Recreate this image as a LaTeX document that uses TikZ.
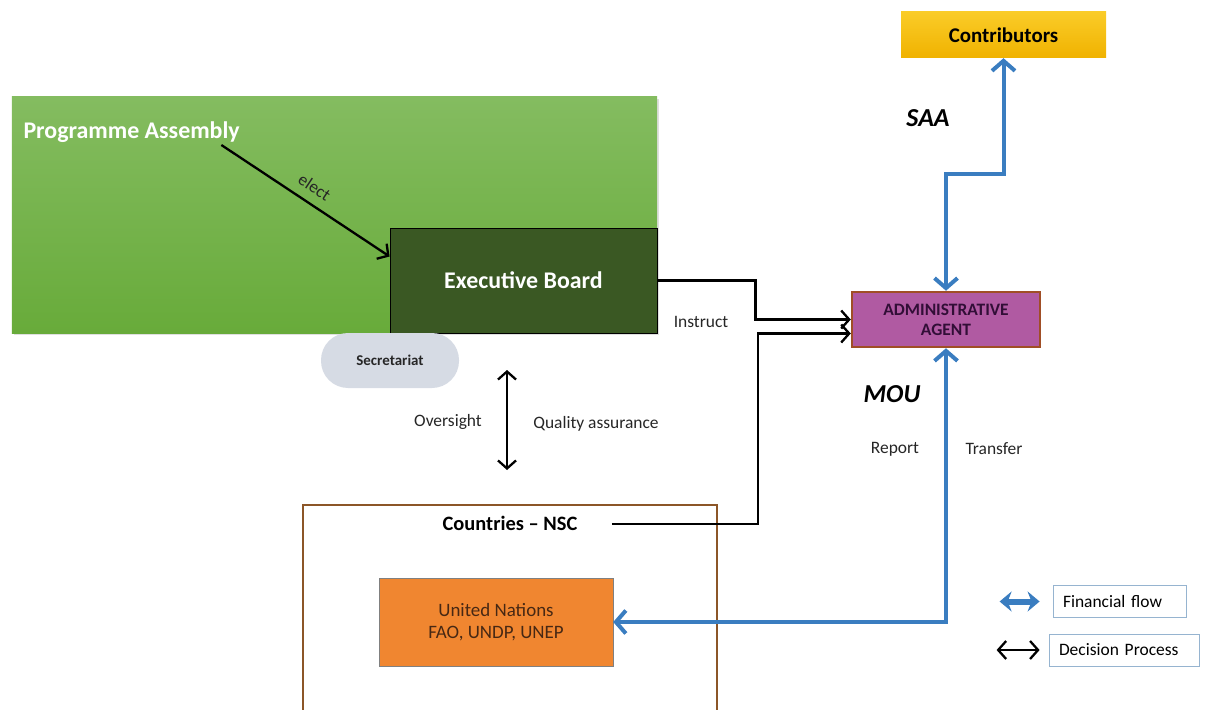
\documentclass[tikz,border=0pt]{standalone}
\usepackage{fontspec}
\setmainfont{Carlito}
\usetikzlibrary{positioning, arrows.meta, shadows}

\definecolor{paTop}{RGB}{132,188,96}
\definecolor{paBottom}{RGB}{104,171,58}
\definecolor{ebGreen}{RGB}{58,88,35}
\definecolor{secGrey}{RGB}{214,219,228}
\definecolor{agentFill}{RGB}{176,90,162}
\definecolor{agentLine}{RGB}{160,78,38}
\definecolor{agentText}{RGB}{50,14,55}
\definecolor{goldTop}{RGB}{250,204,40}
\definecolor{goldBottom}{RGB}{240,178,0}
\definecolor{unOrange}{RGB}{240,134,48}
\definecolor{unText}{RGB}{70,40,20}
\definecolor{nscBrown}{RGB}{140,86,40}
\definecolor{flowBlue}{RGB}{58,125,192}
\definecolor{legendLine}{RGB}{150,180,208}

\tikzstyle{assembly} = [top color=paTop, bottom color=paBottom, minimum width=645bp,%
                        minimum height=236bp, anchor=center,%
                        drop shadow={shadow xshift=2bp, shadow yshift=-2bp, opacity=0.25}]
\tikzstyle{board} = [draw=black, thick, fill=ebGreen, text=white,%
                     font=\fontsize{24}{28}\selectfont\bfseries,%
                     minimum width=267bp, minimum height=105bp, anchor=center]
\tikzstyle{secret} = [fill=secGrey, rounded corners=27bp, text=black!85,%
                      font=\fontsize{15}{18}\selectfont\bfseries,%
                      minimum width=138bp, minimum height=55bp]
\tikzstyle{donor} = [top color=goldTop, bottom color=goldBottom,%
                     font=\fontsize{21}{25}\selectfont\bfseries,%
                     minimum width=205bp, minimum height=46bp]
\tikzstyle{agent} = [draw=agentLine, line width=2.5bp, fill=agentFill, text=agentText,%
                     align=center, font=\fontsize{17.5}{20}\selectfont\bfseries,%
                     minimum width=188bp, minimum height=55bp]
\tikzstyle{country} = [draw=nscBrown, line width=2bp, minimum width=414bp, minimum height=215bp]
\tikzstyle{unbox} = [draw=black!50, fill=unOrange, text=unText, align=center,%
                     font=\fontsize{19}{22}\selectfont,%
                     minimum width=234bp, minimum height=88bp]
\tikzstyle{legend} = [draw=legendLine, thick, inner xsep=10bp, align=left,%
                      font=\fontsize{17.5}{20}\selectfont, minimum height=32bp]
\tikzstyle{note} = [font=\fontsize{17.5}{20}\selectfont, text=black!85]
\tikzstyle{acronym} = [font=\fontsize{26}{30}\selectfont\bfseries\itshape]
\tikzstyle{decision} = [draw=black, line width=2.3bp, >={Straight Barb[length=8bp, width=18bp]}]
\tikzstyle{finance} = [draw=flowBlue, line width=4bp, >={Straight Barb[length=10bp, width=23bp]}]

\begin{document}
\begin{tikzpicture}[x=1bp, y=-1bp]
	\useasboundingbox (0,0) rectangle (1207,710);

	\node (pabox) [assembly] at (334.5,215) {};
	\node (pa) [anchor=west, text=white, font=\fontsize{24}{28}\selectfont\bfseries] at (20,132) {Programme Assembly};
	\node (eb) [board] at (523.5,280.5) {Executive Board};
	\node (sec) [secret] at (390,360.5) {Secretariat};

	\node (con) [donor] at (1003.5,35) {Contributors};
	\node (aa)  [agent] at (946,319.5) {ADMINISTRATIVE\\AGENT};

	\node (nscbox) [country] at (510,612.5) {};
	\node (nsc) [below=9bp of nscbox.north, font=\fontsize{20.5}{24}\selectfont\bfseries] {Countries -- NSC};
	\node (un) [unbox] at (496,622) {United Nations\\FAO, UNDP, UNEP};

	% labels
	\node (saa) [acronym] at (928,118) {SAA};
	\node (mou) [acronym] at (892,394) {MOU};
	\node (report)   [note] at (895,449) {Report};
	\node (transfer) [note] at (994,449) {Transfer};
	\node (instruct) [note] at (701,322) {Instruct};
	\node (ovs) [note] at (448,422) {Oversight};
	\node (qa)  [note] at (596,424) {Quality assurance};

	% decision process
	\draw[decision,->] ([xshift=-22bp, yshift=-13bp]pa.east) -- ([yshift=24bp]eb.west)%
		node[midway, above=6bp, sloped, note] {elect};
	\draw[decision,->] (eb.east) -- ++(98,0) |- (aa.west);
	\draw[decision,->] ([xshift=31bp]nsc.east) -- ++(146,0) |- ([yshift=-14bp]aa.west);

	\coordinate (ovtop) at (507,370);
	\coordinate (ovbot) at (507,470);
	\draw[decision,<->] (ovtop) -- (ovbot);

	% financial flow
	\draw[finance,<->] (aa.north) -- ++(0,-117) -| (con.south);
	\draw[finance,<->] (un.east) -| (aa.south);

	% legend
	\node (finbox) [legend, text width=113bp] at (1119.5,601.5) {Financial flow};
	\node (decbox) [legend, text width=130bp] at (1124,650) {Decision Process};
	\coordinate (fin2) at ([xshift=-13bp]finbox.west);
	\coordinate (fin1) at ([xshift=-40bp]fin2);
	\coordinate (dec2) at ([xshift=-9bp]decbox.west);
	\coordinate (dec1) at ([xshift=-43bp]dec2);
	\draw[finance, line width=6bp, {Stealth[length=12bp, width=20bp]}-{Stealth[length=12bp, width=20bp]}] (fin1) -- (fin2);
	\draw[decision,<->] (dec1) -- (dec2);
\end{tikzpicture}
\end{document}
